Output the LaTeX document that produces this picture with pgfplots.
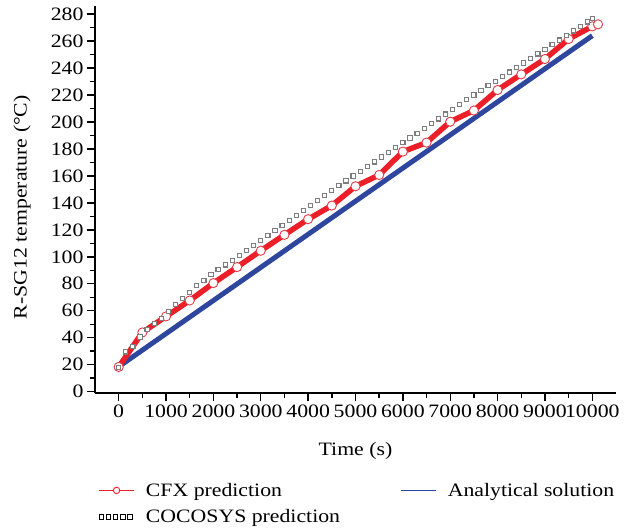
\documentclass[border=0pt]{standalone}
\usepackage{fontspec}
\setmainfont[FakeStretch=1.15]{Liberation Serif}
\usepackage{pgfplots}
\usepackage{pgfplotstable}
\pgfplotsset{compat=1.18}

\definecolor{cfxred}{RGB}{236,30,40}
\definecolor{cfxedge}{RGB}{228,60,70}
\definecolor{anablue}{RGB}{46,70,158}
\definecolor{cocogray}{RGB}{125,125,125}

% CFX prediction (s, deg C)
\pgfplotstableread{
t T
0 18.3
500 43.9
1000 55.8
1500 67.6
2000 80.5
2500 92.4
3000 104.5
3500 116.3
4000 127.9
4500 138.0
5000 152.3
5500 160.7
6000 178.0
6500 184.7
7000 200.2
7500 208.5
8000 223.7
8500 235.3
9000 246.7
9500 261.5
10000 270.9
10120 272.4
}\cfx

% COCOSYS prediction (s, deg C)
\pgfplotstableread{
t T
0 18.0
150 29.5
300 33.5
450 40.5
600 46.0
750 50.5
900 54.5
1050 59.5
1200 64.5
1350 69.0
1500 73.6
1650 78.5
1800 82.5
1950 86.7
2100 90.5
2250 94.0
2400 97.5
2550 101.2
2700 104.9
2850 108.6
3000 112.3
3150 116.0
3300 119.6
3450 123.3
3600 127.0
3750 130.7
3900 134.4
4050 138.0
4200 141.7
4350 145.4
4500 149.1
4650 152.7
4800 156.3
4950 159.9
5100 163.4
5250 166.9
5400 170.4
5550 174.0
5700 177.5
5850 181.1
6000 184.6
6150 188.1
6300 191.7
6450 195.2
6600 198.8
6750 202.3
6900 205.8
7050 209.4
7200 212.9
7350 216.5
7500 220.0
7650 223.4
7800 226.8
7950 230.2
8100 233.6
8250 237.0
8400 240.3
8550 243.7
8700 247.1
8850 250.5
9000 253.9
9150 257.3
9300 260.7
9450 264.1
9600 267.5
9750 270.8
9900 274.2
10000 276.5
}\cocosys

% Analytical solution (s, deg C)
\pgfplotstableread{
t T
0 18.5
10000 264.0
}\analytical

\begin{document}
\begin{tikzpicture}
\begin{axis}[
  name=ax,
  scale only axis,
  width=521bp, height=387bp,
  xmin=-500, xmax=10500, ymin=-1, ymax=286,
  axis lines=left,
  axis line style={-, line width=1.6bp},
  tick align=outside,
  major tick length=8bp, minor tick length=5bp,
  tick style={black, line width=1.4bp},
  xtick={0,1000,...,10000}, minor x tick num=1,
  ytick={0,20,...,280}, minor y tick num=1,
  scaled x ticks=false,
  /pgf/number format/assume math mode=true,
  /pgf/number format/1000 sep={},
  tick label style={font=\fontsize{19}{21}\selectfont},
  label style={font=\fontsize{19}{21}\selectfont},
  xlabel={Time (s)},
  xlabel style={yshift=-18bp},
  ylabel={R-SG12 temperature (°C)},
  ylabel style={at={(axis description cs:-0.14,0.48)}, anchor=center},
  clip=false,
  legend columns=2,
  legend cell align=left,
  legend style={at={(0,-0.222)}, anchor=north west, draw=none, fill=none,
    font=\fontsize{19}{21}\selectfont, row sep=8bp,
    /tikz/every odd column/.append style={column sep=9bp},
    /tikz/every even column/.append style={column sep=58bp}},
]
% analytical line
\addplot[anablue, line width=5bp, forget plot] table[x=t, y=T] {\analytical};
% CFX
\addplot[cfxred, line width=5.5bp, mark=*, mark size=4.6bp,
  mark options={solid, fill=white, draw=cfxedge, line width=0.9bp}, forget plot]
  table[x=t, y=T] {\cfx};
% COCOSYS
\addplot[only marks, mark=square*, mark size=2.1bp,
  mark options={fill=white, draw=cocogray, line width=1.1bp}, forget plot]
  table[x=t, y=T] {\cocosys};

\addlegendimage{cfxred, line width=1.8bp, mark=*, mark size=3.2bp,
  mark options={solid, fill=white, draw=cfxred, line width=0.9bp},
  legend image code/.code={\draw[mark repeat=2, mark phase=2]
    plot coordinates {(0bp,0bp) (17.5bp,0bp) (35bp,0bp)};}}
\addlegendentry{CFX prediction}
\addlegendimage{anablue, line width=1.8bp,
  legend image code/.code={\draw (0bp,0bp) -- (35bp,0bp);}}
\addlegendentry{Analytical solution}
\addlegendimage{black, line width=0.8bp,
  legend image code/.code={\foreach \i in {0,...,4}
    {\draw[fill=white] (\i*7.2bp, -2.2bp) rectangle ++(4.4bp, 4.4bp);}}}
\addlegendentry{COCOSYS prediction}
\end{axis}
\pgfresetboundingbox
\path[use as bounding box] ([shift={(-95bp,-136bp)}]ax.south west)
  rectangle ([shift={(13bp,6bp)}]ax.north east);
\end{tikzpicture}
\end{document}
